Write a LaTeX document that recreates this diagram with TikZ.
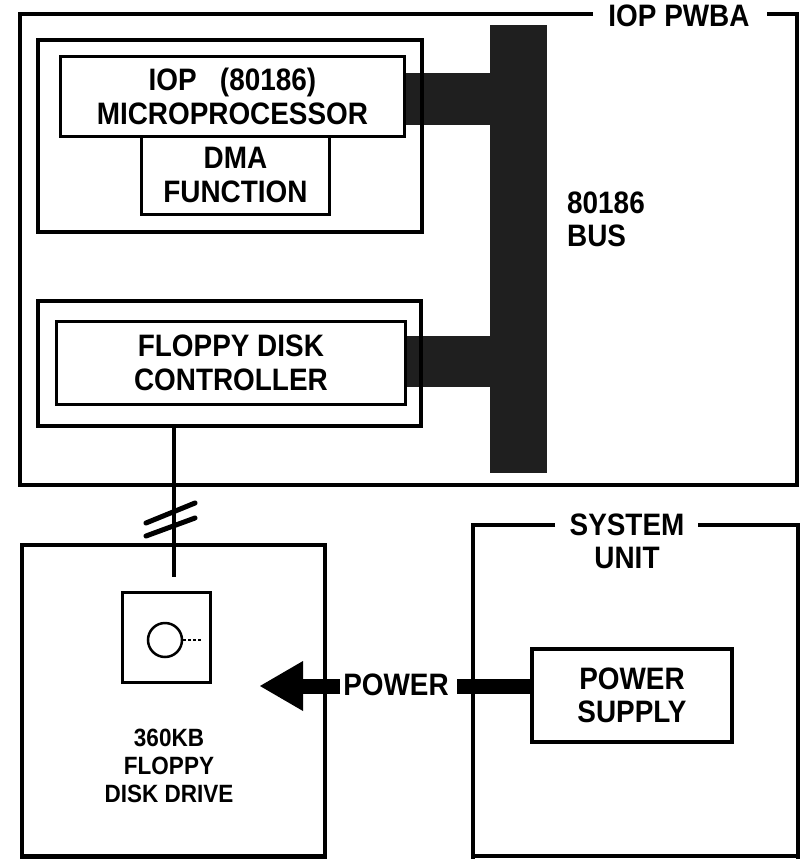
\documentclass[tikz,border=0pt]{standalone}
\usepackage{fontspec}
\setmainfont[FakeStretch=0.9]{Liberation Sans}
\begin{document}
\begin{tikzpicture}[x=1pt,y=-1pt,
  heavy/.style={draw, line width=4pt},
  frame/.style={draw, line width=4pt, anchor=north west, inner sep=0pt},
  panel/.style={draw, line width=2.8pt, fill=white, anchor=north west, inner sep=0pt,
    font=\fontsize{31}{34}\selectfont\bfseries, align=center},
  busfill/.style={fill=black!88, draw=none, anchor=north west, inner sep=0pt},
  lbl/.style={font=\fontsize{31}{33}\selectfont\bfseries, align=center, inner sep=0pt},
  smalllbl/.style={font=\fontsize{25}{28}\selectfont\bfseries, align=center, inner sep=0pt}]
\useasboundingbox (0,0) rectangle (802,859);

% IOP PWBA outer frame
\node[lbl] (pwba) at (679,16) {IOP PWBA};
\coordinate (pwbaL) at (593,14);
\coordinate (pwbaR) at (767,14);
\draw[line width=4pt] (pwbaL) -- (20,14) -- (20,485) -- (797,485) -- (797,14) -- (pwbaR);

% bus and stubs
\node[busfill, minimum width=57pt, minimum height=448pt] (bus) at (490,25) {};
\node[busfill, minimum width=88pt, minimum height=52pt] (stubA) at (403,73) {};
\node[busfill, minimum width=88pt, minimum height=51pt] (stubB) at (403,336) {};
\node[lbl, align=left, anchor=north west] (bustxt) at (567,192) {80186\\BUS};

% microprocessor group
\node[frame, minimum width=384pt, minimum height=192pt] (mpouter) at (36,38) {};
\node[panel, minimum width=344pt, minimum height=80pt] (iop) at (59,55) {IOP\ \ \ (80186)\\MICROPROCESSOR};
\node[panel, minimum width=188pt, minimum height=78pt] (dma) at (140,135) {DMA\\FUNCTION};

% floppy controller group
\node[frame, minimum width=383pt, minimum height=125pt] (fdcouter) at (36,299) {};
\node[panel, minimum width=349pt, minimum height=83pt] (fdc) at (55,320) {FLOPPY DISK\\CONTROLLER};

% drive
\node[frame, minimum width=303pt, minimum height=313pt] (drive) at (20,543) {};
\node[draw, line width=2.8pt, anchor=north west, inner sep=0pt, minimum width=88pt, minimum height=90pt] (window) at (121,591) {};
\node[draw, circle, line width=2.5pt, minimum size=34pt, inner sep=0pt] (disk) at (165,640) {};
\coordinate (diskR) at (203,640);
\draw[line width=1.3pt, dash pattern=on 3pt off 2pt] (disk.east) -- (diskR);
\node[smalllbl] (drivetxt) at (169,766) {360KB\\FLOPPY\\DISK DRIVE};

% cable with break marks
\coordinate (cend) at (174,577);
\draw[line width=4pt] (fdcouter.south -| cend) -- (cend);
\coordinate (s1a) at (146,523); \coordinate (s1b) at (195,503);
\coordinate (s2a) at (146,536); \coordinate (s2b) at (195,518);
\draw[line width=5pt, line cap=round] (s1a) -- (s1b);
\draw[line width=5pt, line cap=round] (s2a) -- (s2b);

% system unit
\node[lbl] (systxt) at (627,541) {SYSTEM\\UNIT};
\coordinate (sysL) at (555,525);
\coordinate (sysR) at (698,525);
\draw[line width=4pt] (sysL) -- (473,525) -- (473,862);
\draw[line width=4pt] (sysR) -- (798,525) -- (798,862);
\draw[line width=4pt] (473,856) -- (798,856);
\draw[line width=4pt] (20,856) -- (323,856);

\node[draw, line width=4pt, anchor=north west, inner sep=0pt, minimum width=200pt, minimum height=93pt,
  font=\fontsize{31}{33}\selectfont\bfseries, align=center] (ps) at (530,647) {POWER\\SUPPLY};

% power arrow
\node[lbl] (pwr) at (396,685) {POWER};
\coordinate (shR) at (457,686);
\coordinate (shL) at (340,686);
\coordinate (tip) at (260,686);
\draw[line width=15pt] (ps.west |- shR) -- (shR);
\draw[line width=15pt] (shL) -- (302,686);
\fill (tip) -- (303,661) -- (303,711) -- cycle;
\end{tikzpicture}
\end{document}
